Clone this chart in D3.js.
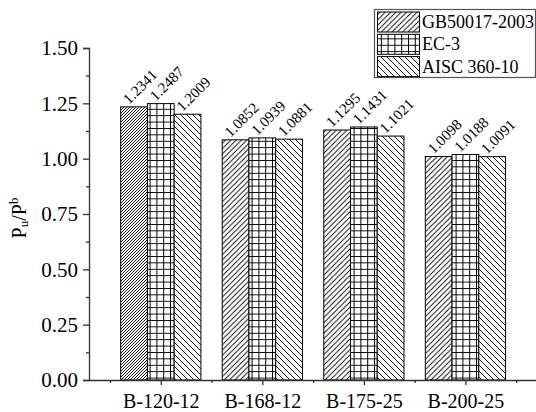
<!DOCTYPE html>
<html><head><meta charset="utf-8">
<script src="https://cdn.jsdelivr.net/npm/d3@7"></script>
<style>body{margin:0;background:#fff}svg{display:block}text{font-family:"Liberation Serif","Times New Roman","DejaVu Serif",serif;fill:#000}</style>
</head><body>
<script>
const categories = ["B-120-12","B-168-12","B-175-25","B-200-25"];
const seriesNames = ["GB50017-2003","EC-3","AISC 360-10"];
const gbValues = [1.2341,1.0852,1.1295,1.0098];
const ecValues = [1.2487,1.0939,1.1431,1.0188];
const aiscValues = [1.2009,1.0881,1.1021,1.0091];
const yTicks = [0,0.25,0.5,0.75,1.0,1.25,1.5];
const seriesValues = [gbValues, ecValues, aiscValues];

const W=536,H=412;
const svg=d3.select("body").append("svg").attr("width",W).attr("height",H);
const defs=svg.append("defs");

function hatch(id, size, dir, sw){
  const p=defs.append("pattern").attr("id",id).attr("patternUnits","userSpaceOnUse")
    .attr("width",size).attr("height",size);
  p.append("rect").attr("width",size).attr("height",size).attr("fill","#fff");
  const d = dir>0
    ? `M${-size},${size} L${size},${-size} M0,${size} L${size},0 M0,${2*size} L${2*size},0`
    : `M0,0 L${size},${size} M${-size},0 L${size},${2*size} M0,${-size} L${2*size},${size}`;
  p.append("path").attr("d",d).attr("stroke","#000").attr("stroke-width",sw).attr("fill","none");
}
hatch("gbDense",3,1,0.9);
hatch("gb",5.3,1,0.9);
hatch("aisc",6,-1,0.9);
(function(){
  const p=defs.append("pattern").attr("id","ec").attr("patternUnits","userSpaceOnUse").attr("width",6.8).attr("height",6.4);
  p.append("rect").attr("width",6.8).attr("height",6.4).attr("fill","#fff");
  p.append("path").attr("d","M0.5,0 V6.4 M0,0.5 H6.8").attr("stroke","#000").attr("stroke-width",1).attr("fill","none");
})();
function fillFor(s,i){
  if(s===0) return i===0?"url(#gbDense)":"url(#gb)";
  if(s===1) return "url(#ec)";
  return "url(#aisc)";
}

const x=d3.scaleLinear().domain([0.293,4.7]).range([89,536.5]);
const y=d3.scaleLinear().domain([0,1.5]).range([380,48]);
const bw = x(1)-x(0.7367);

const g=svg.append("g");
// bars
seriesValues.forEach((vals,s)=>{
  vals.forEach((v,i)=>{
    const cx=x(i+1)+(s-1)*bw;
    g.append("rect").attr("x",cx-bw/2).attr("y",y(v)).attr("width",bw).attr("height",y(0)-y(v))
      .attr("fill",fillFor(s,i)).attr("stroke","#000").attr("stroke-width",1);
    g.append("text").attr("transform",`translate(${cx+6},${y(v)-20}) rotate(-45)`)
      .attr("font-size",15).attr("text-anchor","middle").attr("dominant-baseline","central")
      .text(v.toFixed(4));
  });
});

// y axis
const yAxis=d3.axisLeft(y).tickValues(yTicks).tickFormat(d3.format(".2f")).tickSize(6).tickPadding(5);
const ya=svg.append("g").attr("transform","translate(89,0)").call(yAxis);
ya.attr("font-family",null);
ya.select(".domain").attr("stroke","#333").attr("stroke-width",1.3);
ya.selectAll(".tick line").attr("stroke","#333").attr("stroke-width",1.3);
ya.selectAll(".tick text").attr("font-size",21).attr("fill","#000");
const yMinor=d3.axisLeft(y).tickValues(d3.range(0.125,1.5,0.25)).tickFormat("").tickSize(3);
const ym=svg.append("g").attr("transform","translate(89,0)").call(yMinor);
ym.select(".domain").remove();
ym.selectAll(".tick line").attr("stroke","#333").attr("stroke-width",1.3);

// x axis
const xAxis=d3.axisBottom(x).tickValues([1,2,3,4]).tickFormat((d)=>categories[d-1]).tickSize(5).tickPadding(9).tickSizeOuter(0);
const xa=svg.append("g").attr("transform","translate(0,380)").call(xAxis);
xa.attr("font-family",null);
xa.select(".domain").attr("stroke","#333").attr("stroke-width",1.3);
xa.selectAll(".tick line").attr("stroke","#333").attr("stroke-width",1.3);
xa.selectAll(".tick text").attr("font-size",20).attr("fill","#000");
const xMinor=d3.axisBottom(x).tickValues([0.5,1.5,2.5,3.5,4.5]).tickFormat("").tickSize(3).tickSizeOuter(0);
const xm=svg.append("g").attr("transform","translate(0,380)").call(xMinor);
xm.select(".domain").remove();
xm.selectAll(".tick line").attr("stroke","#333").attr("stroke-width",1.3);

// y title
const yt=svg.append("text").attr("transform",`translate(26,${(y(0)+y(1.5))/2+4}) rotate(-90)`)
  .attr("text-anchor","middle").attr("font-size",20);
yt.append("tspan").text("P");
yt.append("tspan").attr("font-size",13).attr("dy",2).text("u");
yt.append("tspan").attr("dy",-2).text("/P");
yt.append("tspan").attr("font-size",13).attr("dy",-8).text("b");

// legend
const lg=svg.append("g");
lg.append("rect").attr("x",374.5).attr("y",9.5).attr("width",161).attr("height",68)
  .attr("fill","#fff").attr("stroke","#555").attr("stroke-width",1.2);
seriesNames.forEach((n,s)=>{
  const yy=12+s*22.3;
  lg.append("rect").attr("x",377.5).attr("y",yy).attr("width",42).attr("height",20)
    .attr("fill",fillFor(s,1)).attr("stroke","#000").attr("stroke-width",1);
  lg.append("text").attr("x",422).attr("y",yy+16).attr("font-size",18).text(n);
});
</script>
</body></html>
